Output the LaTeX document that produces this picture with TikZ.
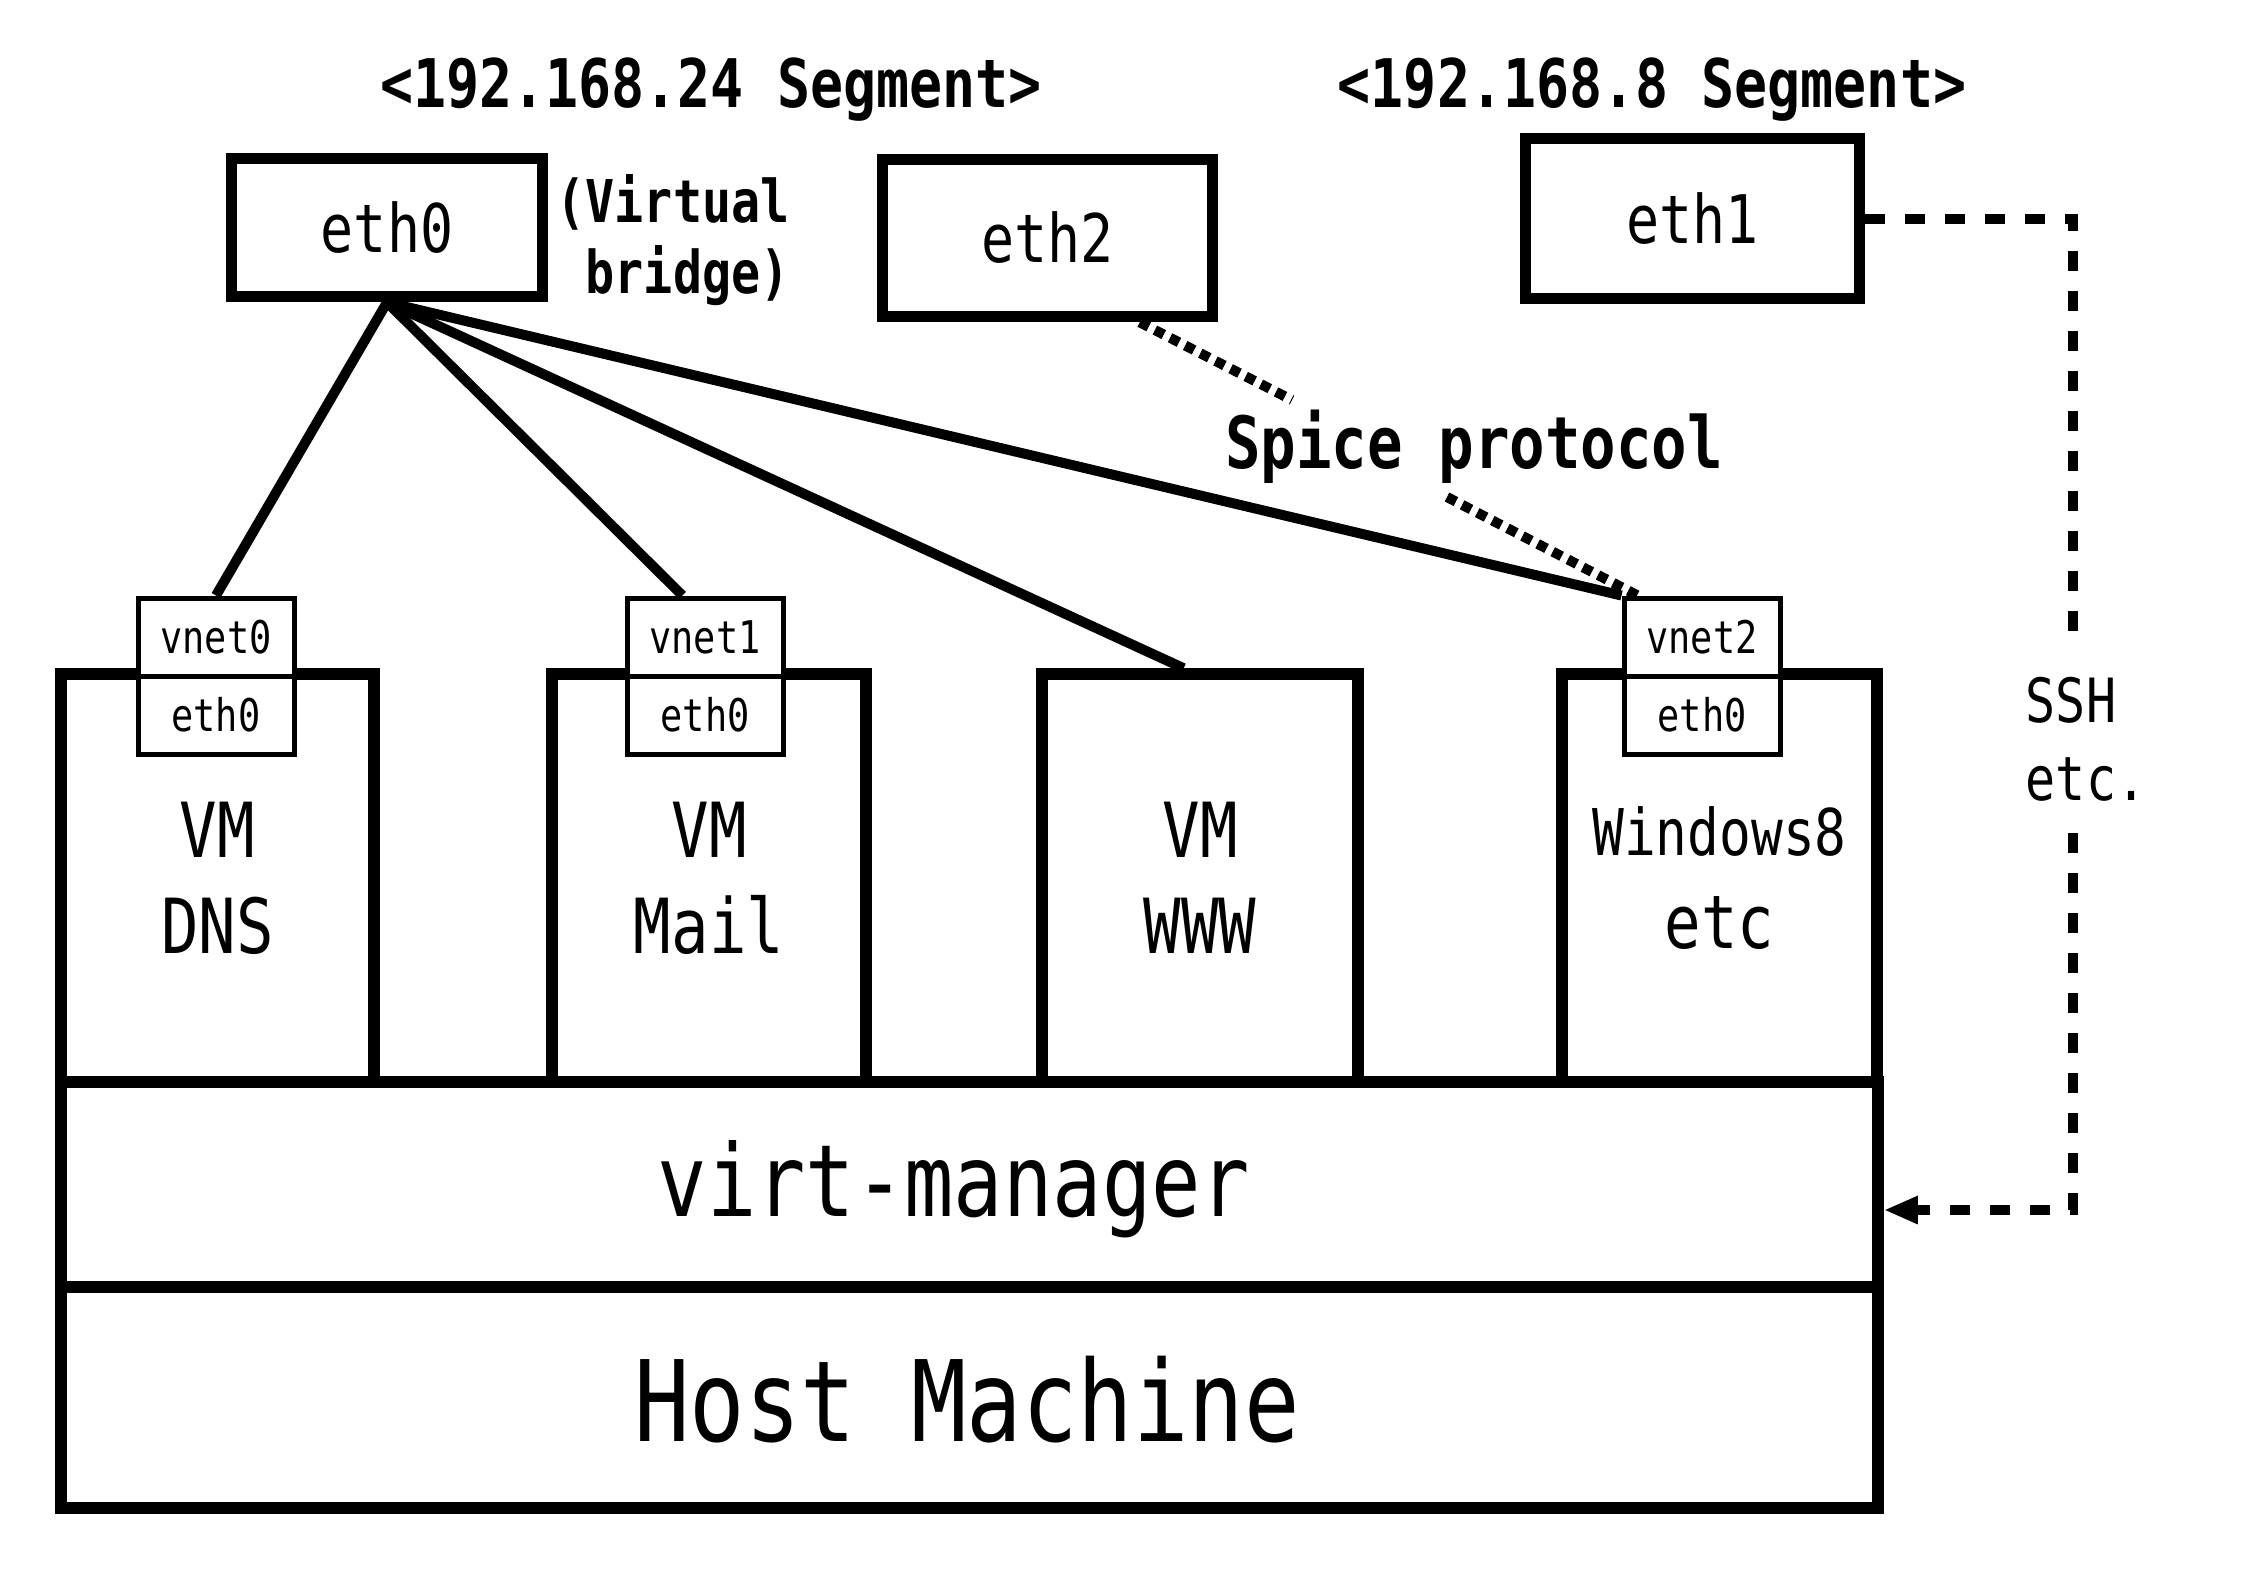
\documentclass[tikz,border=0pt]{standalone}
\usepackage{fontspec}
\setmainfont{DejaVu Sans Mono}[FakeStretch=0.82]
\usetikzlibrary{arrows.meta,calc}
\newcommand{\fsz}[2]{\fontsize{#1}{#2}\selectfont}
\begin{document}
\begin{tikzpicture}[x=0.25pt,y=-0.25pt,
  box/.style={draw,line width=2.9pt,inner sep=0pt,fill=white},
  tag/.style={draw,line width=1.25pt,fill=white,inner sep=0pt,minimum width=39pt,minimum height=19.5pt,font=\fsz{11.25}{13}},
  link/.style={line width=2.5pt},
  spiceline/.style={line width=2.5pt,dash pattern=on 2.5pt off 1.75pt},
  sshline/.style={line width=2.5pt,dash pattern=on 5pt off 5pt},
  lbl/.style={inner sep=0pt}]
\useasboundingbox (0,0) rectangle (2246,1588);

% segment labels
\node[lbl,anchor=base,font=\bfseries\fsz{16.75}{20}] (seg24) at (711,107) {<192.168.24 Segment>};
\node[lbl,anchor=base,font=\bfseries\fsz{16.75}{20}] (seg8) at (1652,107) {<192.168.8 Segment>};

% host interfaces
\node[box,minimum width=77.75pt,minimum height=34.5pt,font=\fsz{16.75}{20}] (eth0) at (387,227.5) {eth0};
\node[box,minimum width=82.5pt,minimum height=39.25pt,font=\fsz{16.75}{20}] (eth2) at (1047.5,238) {eth2};
\node[box,minimum width=83.5pt,minimum height=40pt,font=\fsz{16.75}{20}] (eth1) at (1692.5,218.5) {eth1};
\node[lbl,align=right,font=\bfseries\fsz{14.75}{17.75}] (vb) at (673,240) {(Virtual\\bridge)};

% VM boxes
\node[box,minimum width=78.25pt,minimum height=102pt,align=center,font=\fsz{19}{24}] (dns) at (217.5,878) {VM\\DNS};
\node[box,minimum width=78.5pt,minimum height=102pt,align=center,font=\fsz{19}{24}] (mail) at (709,878) {VM\\Mail};
\node[box,minimum width=79pt,minimum height=102pt,align=center,font=\fsz{19}{24}] (www) at (1200,878) {VM\\WWW};
\node[box,minimum width=78.75pt,minimum height=102pt,align=center,font=\fsz{18.5}{23.25}] (win) at (1719.5,878) {{\fsz{16.1}{23.25}Windows8}\\etc};

% virt-manager and host
\node[box,minimum width=454.25pt,minimum height=51.25pt] (virt) at (969.5,1184.5) {};
\node[lbl,anchor=base,font=\fsz{25}{30}] (virtlbl) at (954,1216) {virt-manager};
\node[box,minimum width=454.25pt,minimum height=55.25pt] (host) at (969.5,1397.5) {};
\node[lbl,anchor=base,font=\fsz{28.1}{34}] (hostlbl) at (967,1441) {Host Machine};

% tags
\node[tag] (vnet0) at (216,637) {vnet0};
\node[tag] (veth0) at (216,715) {eth0};
\node[tag] (vnet1) at (705,637) {vnet1};
\node[tag] (veth1) at (705,715) {eth0};
\node[tag] (vnet2) at (1702,637) {vnet2};
\node[tag] (veth2) at (1702,715) {eth0};

% bridge links
\draw[link] (eth0.south) -- (vnet0.north);
\draw[link] (eth0.south) -- ($(vnet1.north west)!0.36!(vnet1.north east)$);
\draw[link] (eth0.south) -- ($(www.north west)!0.45!(www.north east)$);
\draw[link] (eth0.south) -- (vnet2.north west);

% spice protocol
\node[lbl,anchor=base,font=\bfseries\fsz{18}{21}] (spice) at (1474,468) {Spice protocol};
\coordinate (sp1) at (1292,400);
\coordinate (sp2) at (1447,497);
\draw[spiceline] ($(eth2.south west)!0.77!(eth2.south east)$) -- (sp1);
\draw[spiceline] (sp2) -- ($(vnet2.north west)!0.1!(vnet2.north east)$);

% ssh
\coordinate (s1) at (2073,218.5);
\coordinate (s2) at (2073,635);
\coordinate (s3) at (2073,833);
\coordinate (s4) at (2073,1210);
\draw[sshline] (eth1.east) -- (s1) -- (s2);
\draw[sshline,-{Triangle[length=8.5pt,width=6.5pt]}] (s3) -- (s4) -- (s4 -| virt.east);
\node[lbl,align=left,font=\fsz{15.25}{19.5}] (sshlbl) at (2086,739) {SSH\\etc.};
\end{tikzpicture}
\end{document}
